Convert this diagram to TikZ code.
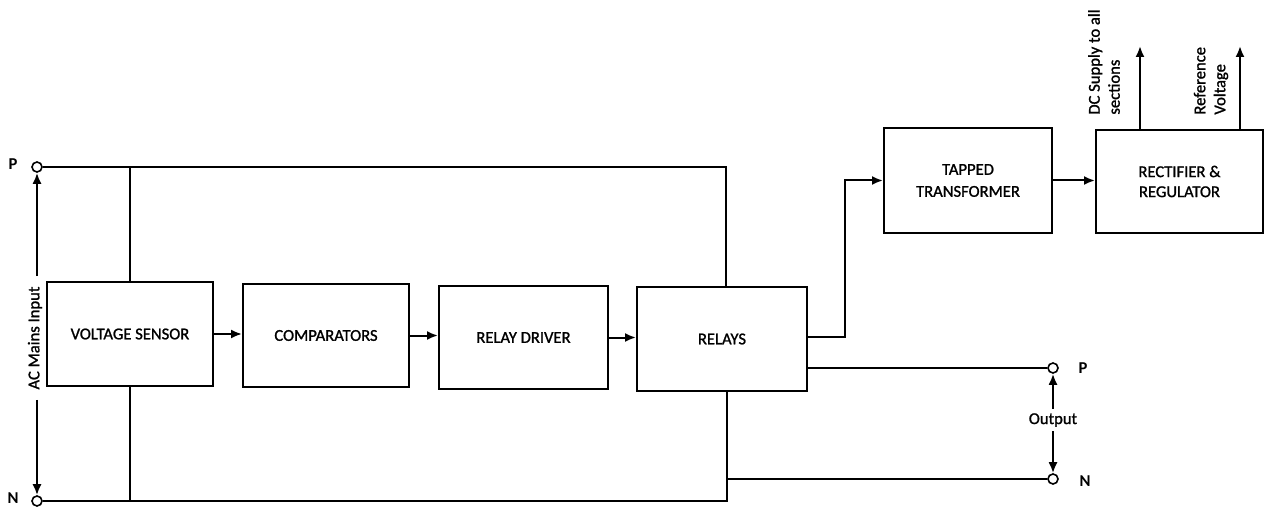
\documentclass[tikz,border=0pt]{standalone}
\usepackage{fontspec}
\setmainfont{Carlito}
\newfontfamily\dkfont{Carlito}[FakeBold=1.2]
\usetikzlibrary{arrows.meta}
\begin{document}
\begin{tikzpicture}[x=0.5pt,y=-0.5pt,
  font=\dkfont\fontsize{8.3}{10}\selectfont,
  box/.style={draw, line width=1pt, align=center, inner sep=0pt},
  wire/.style={line width=0.8pt},
  arr/.style={line width=1pt, -{Latex[length=5.5pt,width=4.5pt]}},
  term/.style={circle, draw, line width=0.8pt, fill=white, minimum size=5pt, inner sep=0pt},
  pinlbl/.style={font=\fontsize{8.3}{10}\selectfont\bfseries, inner sep=0pt},
  vlbl/.style={rotate=90, inner sep=0pt, align=left}]
\useasboundingbox (0,0) rectangle (1270,508);
\fill[white] (0,0) rectangle (1270,508);

% blocks
\node[box, minimum width=83pt, minimum height=52pt] (vs) at (130,334) {VOLTAGE SENSOR};
\node[box, minimum width=83pt, minimum height=51.5pt] (comp) at (326,335.5) {COMPARATORS};
\node[box, minimum width=84.5pt, minimum height=51.5pt] (rd) at (523.5,337.5) {RELAY DRIVER};
\node[box, minimum width=85pt, minimum height=52pt] (rel) at (722,339) {RELAYS};
\node[box, minimum width=84pt, minimum height=52.5pt] (tt) at (968,180.5) {TAPPED\\[1pt]TRANSFORMER};
\node[box, minimum width=83.5pt, minimum height=51.5pt] (rect) at (1179.5,181.5) {RECTIFIER \&\\REGULATOR};

% terminals
\node[term] (inP) at (37,167) {};
\node[term] (inN) at (37,501) {};
\node[term] (outP) at (1053,368) {};
\node[term] (outN) at (1053,479) {};
\node[pinlbl] (lP) at (13,164) {P};
\node[pinlbl] (lN) at (13,498) {N};
\node[pinlbl] (rP) at (1083,368) {P};
\node[pinlbl] (rN) at (1085,481) {N};

% mains wires
\coordinate (tr) at (726,167);
\coordinate (br) at (727,501);
\draw[wire] (inP.east) -- (tr) -- (tr |- rel.north);
\draw[wire] (vs.north) -- (vs.north |- inP);
\draw[wire] (inN.east) -- (br) -- (br |- rel.south);
\draw[wire] (vs.south) -- (vs.south |- inN);

% output wires
\coordinate (onj) at (727,479);
\draw[wire] (onj) -- (outN.west);
\draw[wire] (rel.east |- outP) -- (outP.west);

% signal arrows
\draw[arr] (vs.east) -- (vs.east -| comp.west);
\draw[arr] (comp.east) -- (comp.east -| rd.west);
\draw[arr] (rd.east) -- (rd.east -| rel.west);
\coordinate (tk) at (845,337);
\draw[arr] (rel.east |- tk) -- (tk) |- (tt.west);
\draw[arr] (tt.east) -- (tt.east -| rect.west);

% outputs of rectifier
\coordinate (dcTop) at (1140,46);
\coordinate (refTop) at (1240,46);
\draw[arr] (rect.north -| dcTop) -- (dcTop);
\draw[arr] (rect.north -| refTop) -- (refTop);
\node[vlbl, anchor=west] (dcl) at (1104,115) {DC Supply to all\\sections};
\node[vlbl, anchor=west] (refl) at (1211,115) {Reference\\Voltage};

% AC mains input label
\node[rotate=90, inner sep=5pt] (acin) at (35,338) {AC Mains Input};
\draw[arr] (acin.east -| inP) -- (inP.south);
\draw[arr] (acin.west -| inN) -- (inN.north);

% Output label
\node[inner sep=2pt] (outl) at (1053,420) {Output};
\draw[arr] (outl.north) -- (outP.south);
\draw[arr] (outl.south) -- (outN.north);
\end{tikzpicture}
\end{document}
